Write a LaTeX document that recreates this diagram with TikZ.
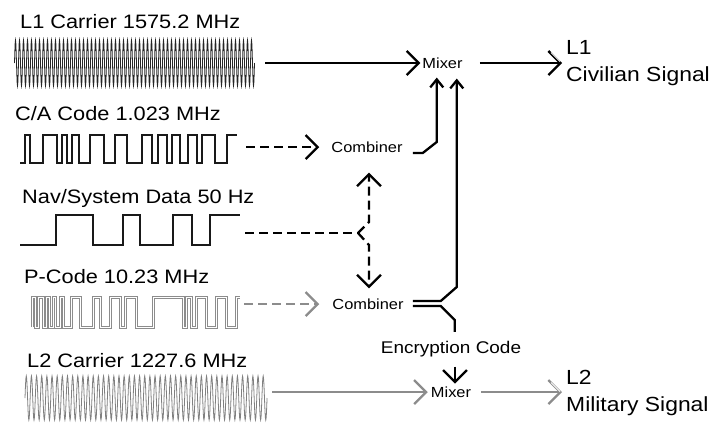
\documentclass[tikz,border=0pt]{standalone}
\usepackage{fontspec}
\setmainfont{Liberation Sans}[FakeStretch=1.12]
\usetikzlibrary{arrows.meta,calc}
\definecolor{sig}{gray}{0.55}
\definecolor{pgr}{gray}{0.55}
\begin{document}
\begin{tikzpicture}[x=1bp,y=-1bp,
  lab/.style={anchor=base west, inner sep=0pt, font=\fontsize{19.5}{23}\selectfont},
  box/.style={inner sep=0pt, font=\fontsize{14.7}{17}\selectfont},
  outlab/.style={anchor=west, inner sep=0pt, align=left, font=\fontsize{20.5}{27}\selectfont},
  conn/.style={line width=2.3bp, -{Straight Barb[length=12bp,width=24bp]}},
  smallhead/.style={line width=2.3bp, -{Straight Barb[length=8bp,width=13bp]}},
  dsh/.style={dash pattern=on 9bp off 5bp},
  wave/.style={line width=0.8bp},
  sq/.style={line width=2bp, black!90},
  sqg/.style={line width=1.0bp, draw=pgr, double=white, double distance=1bp},
]
\useasboundingbox (0,0) rectangle (720,423);

% labels
\node[lab] (l1lab) at (20,28.3) {L1 Carrier 1575.2 MHz};
\node[lab] (calab) at (15,120.5) {C/A Code 1.023 MHz};
\node[lab] (navlab) at (22,203) {Nav/System Data 50 Hz};
\node[lab] (plab) at (24,283) {P-Code 10.23 MHz};
\node[lab] (l2lab) at (27,367) {L2 Carrier 1227.6 MHz};

% waveforms
\draw[wave, black!85] (14.5,63) \foreach \k in {1,...,60} { sin ++(1,-23) cos ++(1,23) sin ++(1,23) cos ++(1,-23) };
\draw[wave, gray] (25,398) \foreach \k in {1,...,47} { sin ++(1.2875,-22) cos ++(1.2875,22) sin ++(1.2875,22) cos ++(1.2875,-22) };
\draw[sq] (20,163) -| (25,135) -| (30,163) -| (42.5,135) -| (56.7,163) -| (61.7,135) -| (67,163) -| (72,135) -| (79,163) -| (90,135) -| (104,163) -| (115,135) -| (127,163) -| (141.7,135) -| (151.7,163) -| (158.3,135) -| (166.7,163) -| (171.7,135) -| (180,163) -| (188.3,135) -| (196.7,163) -| (201.7,135) -| (215,163) -| (226.7,135) -- (237,135);
\draw[sq] (20,245) -| (56,215) -| (93,245) -| (123,215) -| (140,245) -| (173,215) -| (192,245) -| (210,215) -- (240,215);
\draw[sqg] (32,327) -- (32,297) -| (35,327) -| (38.3,297) -| (43.3,327) -| (46,297) -| (49.3,327) -| (53.3,297) -| (55.7,327) -| (60,297) -| (63.3,327) -| (71.7,297) -| (80,327) -| (93.3,297) -| (100,327) -| (110,297) -| (120,327) -| (125,297) -| (136.7,327) -| (153.3,297) -| (183.3,327) -| (186.7,297) -| (191.7,327) -| (196.7,297) -| (206.7,327) -| (216.7,297) -| (226.7,327) -| (236.7,297) -- (240,297);

% wave ends
\coordinate (w1e) at (265,63);
\coordinate (wca) at (246,147);
\coordinate (wnav) at (245,233);
\coordinate (wp) at (244,304);
\coordinate (w2e) at (272,392);
\coordinate (split) at (358,233);

% blocks
\node[box] (mix1) at (442.5,63) {Mixer};
\node[box] (comb1) at (367,147) {Combiner};
\node[box] (comb2) at (368,304) {Combiner};
\node[box, anchor=base, font=\fontsize{17}{20}\selectfont] (enc) at (451,353) {Encryption Code};
\node[box] (mix2) at (451,392) {Mixer};
\node[outlab] (out1) at (566,63) {L1\\Civilian Signal};
\node[outlab] (out2) at (566,393) {L2\\Military Signal};

% connectors
\draw[conn, shorten >=2bp] (w1e) -- (w1e -| mix1.west);
\draw[conn, shorten <=17bp, shorten >=4bp] (mix1.east) -- (mix1.east -| out1.west);
\draw[white, line width=0.8bp] ([shift={(-6,-1.5)}]out1.west) -- ++(-9,-9);
\draw[conn, dsh, shorten >=12bp] (wca) -- (wca -| comb1.west);
\draw[smallhead, shorten >=9bp] ([shift={(10,6)}]comb1.east) -- ++(10,0) -- ++(14,-11) coordinate (cu) -- (cu |- mix1.south);
\draw[dsh, line width=2.3bp] (wnav) -- (split);
\draw[conn, dsh, shorten >=20bp] (split) -- ++(11,-11) coordinate (su) -- (su |- comb1.south);
\draw[conn, dsh, shorten >=10bp] (split) -- ++(11,12) coordinate (sd) -- (sd |- comb2.north);
\draw[conn, dsh, sig, shorten >=13bp] (wp) -- (wp -| comb2.west);
\draw[smallhead, shorten >=10bp] ([shift={(9,-3)}]comb2.east) -- ++(28,0) -- ++(16,-14) coordinate (cv) -- (cv |- mix1.south);
\draw[line width=2.3bp, shorten >=8.6bp] ([shift={(9,2)}]comb2.east) -- ++(28,0) -- ++(14,14) coordinate (cw) -- (cw |- enc.north);
\draw[conn, shorten <=10bp, shorten >=2.7bp] ([shift={(4,0)}]enc.south) -- ([shift={(4,0)}]enc.south |- mix2.north);
\draw[conn, sig, shorten >=3bp] (w2e) -- (w2e -| mix2.west);
\draw[conn, sig, shorten <=10bp, shorten >=4bp] (mix2.east) -- (mix2.east -| out2.west);
\draw[white, line width=0.8bp] ([shift={(-6,-1.5)}]out2.west) -- ++(-9,-9);
\end{tikzpicture}
\end{document}
